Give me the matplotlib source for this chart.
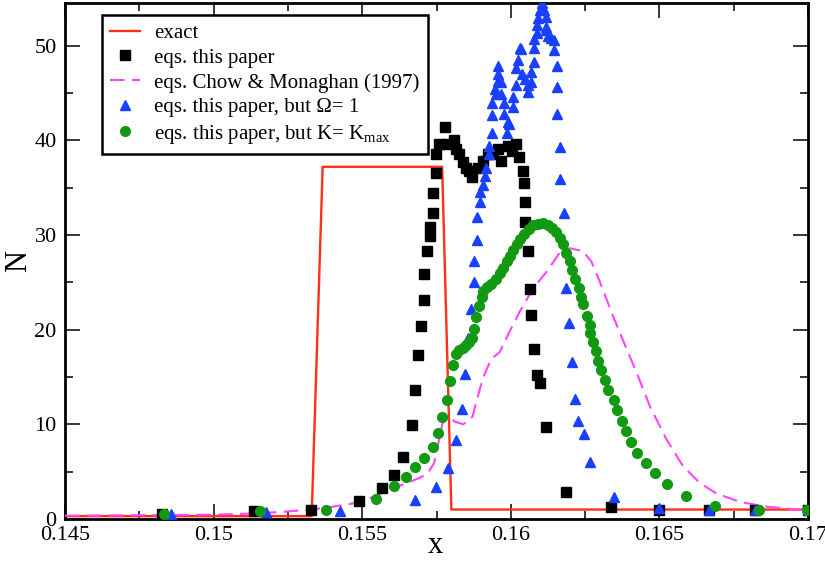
import matplotlib
matplotlib.use("Agg")
import matplotlib.pyplot as plt
from matplotlib.lines import Line2D

plt.rcParams['font.family'] = ['Liberation Serif', 'DejaVu Serif']
plt.rcParams['mathtext.fontset'] = 'custom'
plt.rcParams['mathtext.rm'] = 'Liberation Serif'
plt.rcParams['mathtext.it'] = 'Liberation Serif:italic'

# ---------------- data ----------------
exact_x = [0.145, 0.1533, 0.15367, 0.15769, 0.1580, 0.170]
exact_y = [0.3, 0.3, 37.2, 37.2, 1.0, 1.0]

paper_x = [0.14828, 0.15137, 0.15328, 0.15488, 0.15567, 0.15606, 0.15638, 0.15668,
           0.15677, 0.15687, 0.15697, 0.15707, 0.15707, 0.15717, 0.15729, 0.15729,
           0.15738, 0.15738, 0.15747, 0.15749, 0.15760, 0.15777, 0.15782, 0.15810,
           0.15816, 0.15827, 0.15838, 0.15849, 0.15860, 0.15871, 0.15888, 0.15905,
           0.15922, 0.15939, 0.15956, 0.15967, 0.15990, 0.16004, 0.16018, 0.16029,
           0.16040, 0.16046, 0.16048, 0.16048, 0.16057, 0.16065, 0.16068, 0.16078,
           0.16087, 0.16098, 0.16117, 0.16187, 0.16337, 0.16499, 0.16667, 0.16821,
           0.17000]
paper_y = [0.5, 0.8, 1.0, 1.9, 3.3, 4.7, 6.6, 9.9,
           13.6, 17.3, 20.4, 23.1, 25.9, 28.3, 29.9, 30.8,
           32.3, 34.4, 36.5, 38.5, 39.6, 41.4, 39.6, 40.0,
           39.1, 38.5, 37.7, 37.1, 36.8, 36.1, 37.1, 37.8,
           38.5, 38.5, 39.1, 37.8, 39.4, 38.9, 39.6, 38.2,
           36.8, 35.5, 33.5, 31.4, 28.3, 24.3, 21.5, 18.0,
           15.2, 14.4, 9.7, 2.9, 1.3, 1.0, 0.9, 0.9,
           1.0]

chow_x = [0.145, 0.150, 0.1515, 0.1525, 0.1533, 0.1540, 0.1548, 0.1551, 0.1555,
          0.1560, 0.1565, 0.1569, 0.1572, 0.15742, 0.15759, 0.15770, 0.15793,
          0.15810, 0.1584, 0.15871, 0.15905, 0.15934, 0.15962, 0.15996, 0.16030,
          0.16074, 0.16120, 0.16164, 0.16198, 0.16242, 0.16271, 0.16299, 0.16343,
          0.16389, 0.16423, 0.16468, 0.16524, 0.16579, 0.16636, 0.16692, 0.16771,
          0.16861, 0.16996]
chow_y = [0.35, 0.45, 0.6, 0.8, 1.0, 1.3, 1.7, 2.0, 2.5,
          3.2, 3.8, 4.3, 4.8, 5.9, 8.4, 10.1, 10.9,
          10.3, 10.0, 10.8, 14.8, 16.9, 17.6, 19.8, 21.9,
          24.3, 26.1, 28.1, 28.6, 28.3, 27.2, 25.1, 21.5,
          18.0, 15.5, 11.9, 8.4, 5.6, 3.8, 2.7, 1.8,
          1.3, 0.9]

omega_x = [0.14858, 0.15176, 0.15426, 0.15677, 0.15747, 0.15788, 0.15816, 0.15836,
           0.15846, 0.15855, 0.15867, 0.15876, 0.15876, 0.15887, 0.15887, 0.15897,
           0.15897, 0.15906, 0.15912, 0.15917, 0.15926, 0.15928, 0.15937, 0.15937,
           0.15937, 0.15946, 0.15949, 0.15956, 0.15956, 0.15956, 0.15968, 0.15968,
           0.15976, 0.15976, 0.15987, 0.15990, 0.15995, 0.16007, 0.16007, 0.16018,
           0.16018, 0.16024, 0.16030, 0.16034, 0.16038, 0.16047, 0.16058, 0.16058,
           0.16069, 0.16069, 0.16078, 0.16078, 0.16078, 0.16088, 0.16087, 0.16090,
           0.16097, 0.16106, 0.16112, 0.16117, 0.16117, 0.16117, 0.16125, 0.16136,
           0.16147, 0.16147, 0.16155, 0.16155, 0.16155, 0.16166, 0.16166, 0.16178,
           0.16187, 0.16197, 0.16207, 0.16216, 0.16227, 0.16246, 0.16266, 0.16348,
           0.16499, 0.16666, 0.16821, 0.17000]
omega_y = [0.5, 0.7, 0.8, 2.0, 3.4, 5.4, 8.3, 11.6,
           15.3, 19.1, 22.2, 25.0, 27.3, 29.5, 31.9, 33.5,
           34.5, 35.3, 36.2, 37.1, 38.5, 39.4, 40.8, 42.7,
           43.9, 45.4, 44.9, 46.3, 47.0, 47.8, 46.2, 44.9,
           43.9, 42.8, 40.8, 41.9, 41.7, 43.5, 44.6, 45.8,
           47.6, 48.5, 49.7, 49.6, 47.0, 46.5, 45.8, 45.1,
           46.2, 47.2, 48.3, 49.7, 50.7, 51.3, 52.2, 52.9,
           53.8, 54.5, 53.8, 53.0, 52.0, 51.7, 51.0, 50.8,
           50.6, 49.5, 47.8, 45.6, 42.8, 39.3, 35.9, 32.3,
           24.4, 20.7, 16.6, 12.7, 10.3, 9.0, 6.0, 2.3,
           1.2, 1.0, 0.9, 1.0]

kmax_x = [0.14834, 0.15157, 0.15378, 0.15547, 0.15607, 0.15646, 0.15677, 0.15707,
          0.15737, 0.15756, 0.15767, 0.15787, 0.15797, 0.15806, 0.15816, 0.15827,
          0.15838, 0.15849, 0.15860, 0.15870, 0.15875, 0.15884, 0.15894, 0.15902,
          0.15908, 0.15920, 0.15934, 0.15951, 0.15962, 0.15973, 0.15987, 0.15998,
          0.16009, 0.16020, 0.16032, 0.16046, 0.16061, 0.16076, 0.16092, 0.16108,
          0.16124, 0.16139, 0.16153, 0.16164, 0.16175, 0.16187, 0.16198, 0.16207,
          0.16215, 0.16229, 0.16237, 0.16242, 0.16257, 0.16265, 0.16267, 0.16276,
          0.16285, 0.16295, 0.16305, 0.16316, 0.16327, 0.16346, 0.16356, 0.16375,
          0.16387, 0.16404, 0.16426, 0.16456, 0.16486, 0.16524, 0.16588, 0.16687,
          0.16836, 0.16997]
kmax_y = [0.5, 0.8, 1.0, 2.1, 3.5, 4.4, 5.5, 6.4,
          7.6, 9.1, 10.8, 12.6, 14.6, 16.3, 17.4, 17.9,
          18.1, 18.4, 18.7, 19.1, 20.1, 21.3, 22.5, 23.5,
          24.1, 24.5, 24.8, 25.3, 26.0, 26.5, 27.2, 27.8,
          28.4, 29.0, 29.6, 30.1, 30.6, 31.0, 31.2, 31.3,
          31.1, 30.7, 30.3, 29.7, 29.0, 28.1, 27.2, 26.3,
          25.4, 24.4, 23.5, 22.7, 21.4, 20.5, 19.6, 18.7,
          17.7, 16.7, 15.7, 14.7, 13.6, 12.6, 11.5, 10.4,
          9.3, 8.1, 7.0, 5.9, 4.9, 3.7, 2.4, 1.4,
          1.0, 0.9]

xticks = [0.145, 0.15, 0.155, 0.16, 0.165, 0.17]
xticklabels = ['0.145', '0.15', '0.155', '0.16', '0.165', '0.17']
yticks = [0, 10, 20, 30, 40, 50]

labels = ['exact', 'eqs. this paper', 'eqs. Chow & Monaghan (1997)',
          'eqs. this paper, but \u03a9= 1', 'eqs. this paper, but K= K$_{\\rm max}$']

# ---------------- figure ----------------
W, H = 825, 567
AX_L, AX_R, AX_B, AX_T = 65, 808, 519, 3
fig = plt.figure(figsize=(W / 100, H / 100), dpi=100)
ax = fig.add_axes([AX_L / W, (H - AX_B) / H, (AX_R - AX_L) / W, (AX_B - AX_T) / H])

red = '#ff3015'
mag = '#ff44ff'
blue = '#1a40ff'
green = '#119911'

ax.plot(exact_x, exact_y, color=red, lw=1.7, zorder=2)
ax.plot(chow_x, chow_y, color=mag, lw=1.5, dashes=(7, 3.5), zorder=3)
ax.plot(paper_x, paper_y, ls='none', marker='s', ms=6.5, color='black', zorder=4)
ax.plot(omega_x, omega_y, ls='none', marker='^', ms=7.5, color=blue, zorder=5)
ax.plot(kmax_x, kmax_y, ls='none', marker='o', ms=7, color=green, zorder=6)

ax.set_xlim(0.145, 0.17)
ax.set_ylim(0, 54.5)
ax.set_xticks(xticks)
ax.set_xticklabels(xticklabels)
ax.set_yticks(yticks)
ax.set_xticks([0.1475, 0.1525, 0.1575, 0.1625, 0.1675], minor=True)
ax.set_yticks([5, 15, 25, 35, 45], minor=True)
ax.tick_params(which='both', direction='in', top=True, right=True, width=1.1, labelsize=16)
ax.tick_params(which='major', length=10.5)
ax.tick_params(which='minor', length=5.5)
ax.tick_params(axis='x', pad=5)
ax.tick_params(axis='y', pad=6)
for s in ax.spines.values():
    s.set_linewidth(2)

ax.set_xlabel('x', fontsize=22, va='baseline')
ax.xaxis.set_label_coords(0.5 + (435 - (AX_L + AX_R) / 2) / (AX_R - AX_L),
                          -(553 - AX_B) / (AX_B - AX_T))
ax.set_ylabel('N', fontsize=22, va='center')
ax.yaxis.set_label_coords(-(AX_L - 19) / (AX_R - AX_L),
                          (AX_B - 261) / (AX_B - AX_T))

handles = [
    Line2D([], [], color=red, lw=1.7),
    Line2D([], [], ls='none', marker='s', ms=6.5, color='black'),
    Line2D([], [], color=mag, lw=1.5, dashes=(7, 3.5)),
    Line2D([], [], ls='none', marker='^', ms=7.5, color=blue),
    Line2D([], [], ls='none', marker='o', ms=7, color=green),
]
leg = ax.legend(handles, labels, loc='upper left',
                bbox_to_anchor=((102 - AX_L) / (AX_R - AX_L), (AX_B - 15) / (AX_B - AX_T)),
                borderaxespad=0, fontsize=15, frameon=True, fancybox=False,
                edgecolor='black', framealpha=1, handlelength=1.4,
                handletextpad=0.7, labelspacing=0.25, borderpad=0.4)
leg.get_frame().set_linewidth(1.8)

fig.savefig('out.png', dpi=100)
